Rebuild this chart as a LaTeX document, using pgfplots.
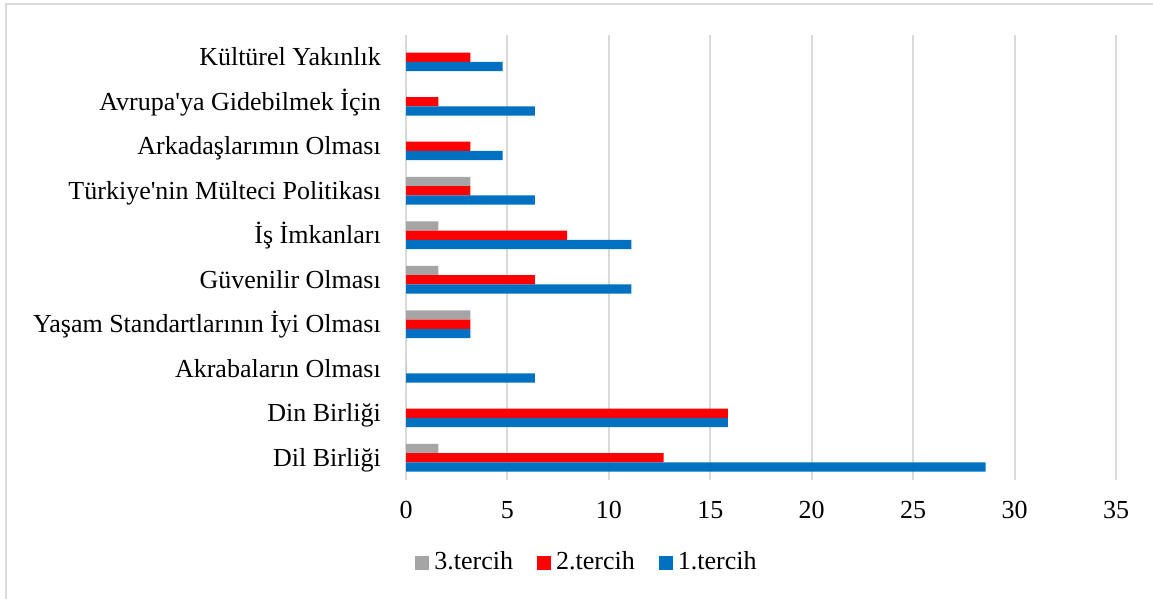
\documentclass[border=0pt]{standalone}
\usepackage{pgfplots}
\pgfplotsset{compat=1.18}
\usepackage{fontspec}
\setmainfont{Liberation Serif}
\definecolor{c1}{HTML}{0070C0}
\definecolor{c2}{HTML}{FF0000}
\definecolor{c3}{HTML}{A5A5A5}
\definecolor{gridc}{HTML}{D9D9D9}

\pgfplotstableread{
y  p1     p2     p3
0  28.57  12.70  1.59
1  15.87  15.87  0
2  6.35   0      0
3  3.17   3.17   3.17
4  11.11  6.35   1.59
5  11.11  7.94   1.59
6  6.35   3.17   3.17
7  4.76   3.17   0
8  6.35   1.59   0
9  4.76   3.17   0
}\datatable

\begin{document}
\fontsize{26bp}{31bp}\selectfont
\begin{tikzpicture}[x=1bp,y=1bp]
\useasboundingbox (0,0) rectangle (1153,599);
\draw[gridc, line width=1.8bp] (6,-20) -- (6,595) -- (1180,595);
\begin{axis}[
  at={(406bp,119bp)}, anchor=south west,
  scale only axis, width=710bp, height=445bp,
  xmin=0, xmax=35, ymin=-0.5, ymax=9.5,
  xbar, bar width=9.3bp,
  xtick={0,5,...,35},
  ytick={0,...,9},
  yticklabels={Dil Birliği, Din Birliği, Akrabaların Olması, Yaşam Standartlarının İyi Olması, Güvenilir Olması, İş İmkanları, Türkiye\textquotesingle nin Mülteci Politikası, Arkadaşlarımın Olması, Avrupa\textquotesingle ya Gidebilmek İçin, Kültürel Yakınlık},
  axis line style={draw=none},
  major tick length=0pt,
  xmajorgrids, grid style={gridc, line width=2bp},
  /pgf/number format/assume math mode=true,
  tick label style={font=\fontsize{26bp}{31bp}\selectfont, text=black},
  xticklabel style={anchor=base, yshift=-39bp},
  yticklabel style={anchor=east, inner sep=0pt, xshift=-25bp, text height=17bp, text depth=0pt},
  legend columns=3,
  legend style={draw=none, fill=none, at={(0.2535,-0.186)}, anchor=center,
    font=\fontsize{26bp}{31bp}\selectfont,
    nodes={inner sep=0pt},
    column sep=5bp,
    /tikz/every even column/.append style={column sep=24bp}},
  legend image code/.code={\fill[#1] (0bp,-7bp) rectangle (14bp,7bp);},
]
\addplot[fill=c3, draw=none, bar shift=9.3bp] table[x=p3, y=y] {\datatable};
\addlegendentry{3.tercih}
\addplot[fill=c2, draw=none, bar shift=0bp] table[x=p2, y=y] {\datatable};
\addlegendentry{2.tercih}
\addplot[fill=c1, draw=none, bar shift=-9.3bp] table[x=p1, y=y] {\datatable};
\addlegendentry{1.tercih}
\end{axis}
\end{tikzpicture}
\end{document}
